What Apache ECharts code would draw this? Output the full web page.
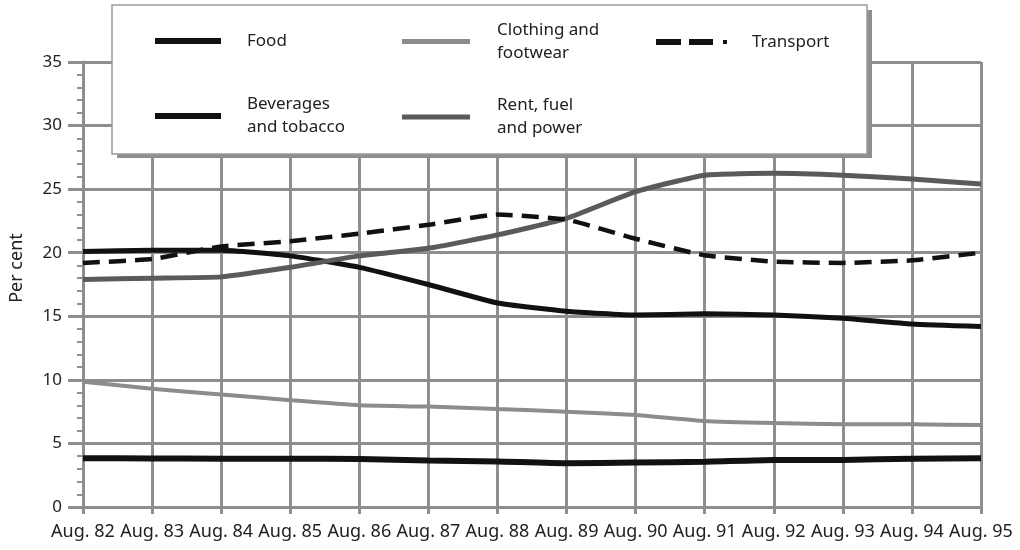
<!DOCTYPE html>
<html>
<head>
<meta charset="utf-8">
<script src="https://cdn.jsdelivr.net/npm/echarts@6/dist/echarts.min.js"></script>
<style>html,body{margin:0;padding:0;background:#fff}#c{width:1020px;height:550px}</style>
</head>
<body>
<div id="c"></div>
<script>
const categories = ['Aug. 82','Aug. 83','Aug. 84','Aug. 85','Aug. 86','Aug. 87','Aug. 88','Aug. 89','Aug. 90','Aug. 91','Aug. 92','Aug. 93','Aug. 94','Aug. 95'];
const food      = [20.1, 20.2, 20.2, 19.75, 18.85, 17.5, 16.05, 15.4, 15.1, 15.2, 15.1, 14.85, 14.4, 14.2];
const beverages = [3.83, 3.82, 3.8, 3.8, 3.78, 3.66, 3.58, 3.44, 3.5, 3.56, 3.7, 3.7, 3.8, 3.83];
const clothing  = [9.86, 9.3, 8.85, 8.4, 8.0, 7.9, 7.7, 7.5, 7.24, 6.77, 6.6, 6.5, 6.5, 6.45];
const rent      = [17.9, 18.0, 18.1, 18.85, 19.75, 20.35, 21.4, 22.7, 24.8, 26.1, 26.25, 26.1, 25.8, 25.4];
const transport = [19.2, 19.5, 20.5, 20.9, 21.5, 22.2, 23.0, 22.6, 21.1, 19.8, 19.3, 19.2, 19.4, 20.0];
const yTicks = [0, 5, 10, 15, 20, 25, 30, 35];
const yTitle = 'Per cent';

const FONT = 'Noto Sans';
const gridColor = '#8e8e8e';
const txt = '#222';

function legendItem(name, icon, color, left, top, w, h, pad) {
  return {
    data: [{name: name, icon: icon, itemStyle: {color: color}}],
    left: left, top: top, itemWidth: w, itemHeight: h, padding: 0,
    selectedMode: false, z: 200,
    textStyle: {fontFamily: FONT, fontSize: 17, color: txt, lineHeight: 23, padding: [0, 0, 0, pad]}
  };
}

const chart = echarts.init(document.getElementById('c'), null, {renderer: 'canvas'});
chart.setOption({
  animation: false,
  backgroundColor: '#fff',
  grid: {left: 83, right: 39, top: 62, bottom: 43, containLabel: false, outerBoundsMode: 'none'},
  graphic: [
    {type: 'rect', z: 99, shape: {x: 117, y: 10, width: 755, height: 148},
      style: {fill: '#8e8e8e'}},
    {type: 'rect', z: 100, shape: {x: 112, y: 5, width: 755, height: 149},
      style: {fill: '#fff', stroke: '#9a9a9a', lineWidth: 1.5}},
    {type: 'text', z: 100, x: 17, y: 268, rotation: Math.PI / 2,
      style: {text: yTitle, font: '18px "Noto Sans"', fill: txt, align: 'center', verticalAlign: 'middle'}}
  ],
  legend: [
    legendItem('Food', 'rect', '#111', 155, 29.5, 66, 6, 21),
    legendItem('Beverages\nand tobacco', 'rect', '#111', 155, 93, 66, 6, 21),
    legendItem('Clothing and\nfootwear', 'rect', '#8c8c8c', 402, 18.5, 68, 5, 22),
    legendItem('Rent, fuel\nand power', 'rect', '#5a5a5a', 402, 94, 68, 5, 22),
    legendItem('Transport', 'path://M0 0H25V6H0Z M33 0H57V6H33Z M67 1H71V5H67Z', '#111', 656, 30.5, 71, 6, 20)
  ],
  xAxis: {
    type: 'category', data: categories, boundaryGap: false,
    axisLine: {show: true, lineStyle: {color: gridColor, width: 3}},
    axisTick: {show: true, length: 7, lineStyle: {color: gridColor, width: 3}},
    axisLabel: {interval: 0, fontFamily: FONT, fontSize: 18, color: txt, margin: 16},
    splitLine: {show: true, lineStyle: {color: gridColor, width: 3}}
  },
  yAxis: {
    type: 'value', min: 0, max: 35, interval: 5,
    axisLine: {show: true, lineStyle: {color: gridColor, width: 3}},
    axisTick: {show: true, length: 15, lineStyle: {color: gridColor, width: 3}},
    minorTick: {show: true, splitNumber: 5, length: 6, lineStyle: {color: gridColor, width: 2}},
    axisLabel: {fontFamily: FONT, fontSize: 17, color: txt, margin: 21,
      formatter: v => yTicks.includes(v) ? String(v) : ''},
    splitLine: {show: true, lineStyle: {color: gridColor, width: 3}}
  },
  series: [
    {name: 'Food', type: 'line', data: food, symbol: 'none', smooth: 0.15, z: 5,
      lineStyle: {color: '#111', width: 5}, itemStyle: {color: '#111'}},
    {name: 'Beverages\nand tobacco', type: 'line', data: beverages, symbol: 'none', smooth: 0.15, z: 5,
      lineStyle: {color: '#111', width: 6}, itemStyle: {color: '#111'}},
    {name: 'Clothing and\nfootwear', type: 'line', data: clothing, symbol: 'none', smooth: 0.15, z: 5,
      lineStyle: {color: '#8c8c8c', width: 4}, itemStyle: {color: '#8c8c8c'}},
    {name: 'Rent, fuel\nand power', type: 'line', data: rent, symbol: 'none', smooth: 0.15, z: 5,
      lineStyle: {color: '#5a5a5a', width: 5}, itemStyle: {color: '#5a5a5a'}},
    {name: 'Transport', type: 'line', data: transport, symbol: 'none', smooth: 0.15, z: 6,
      lineStyle: {color: '#111', width: 4.5, type: [17, 9]}, itemStyle: {color: '#111'}}
  ]
});
</script>
</body>
</html>
